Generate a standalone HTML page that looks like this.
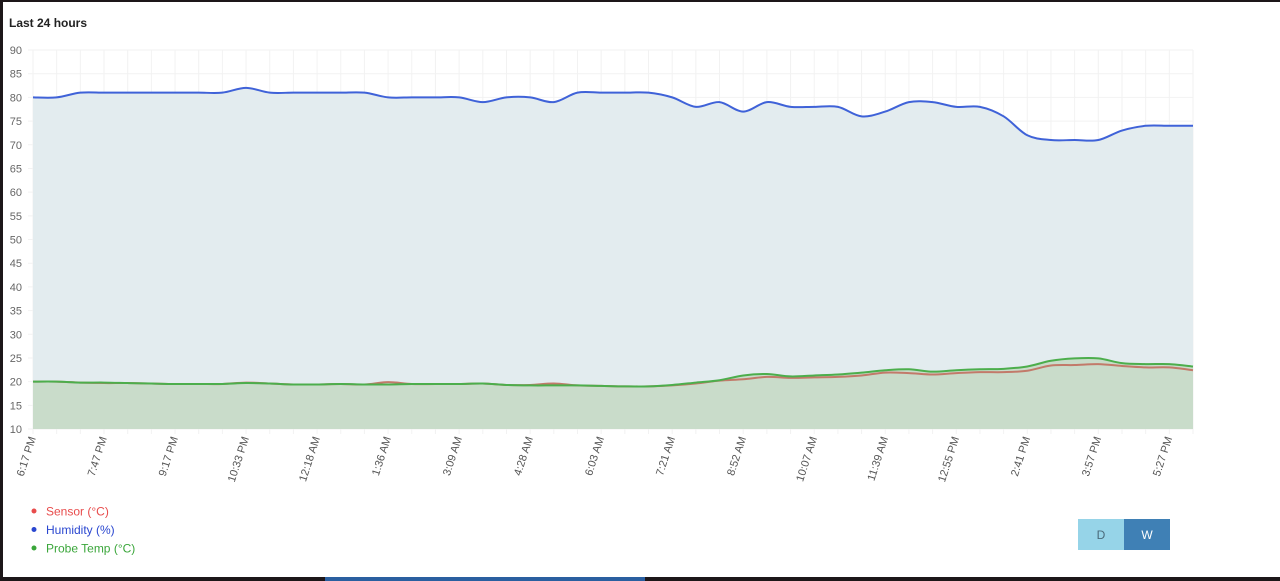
<!DOCTYPE html>
<html><head><meta charset="utf-8"><style>
body{margin:0;width:1280px;height:581px;background:#1d1719;overflow:hidden;font-family:"Liberation Sans",sans-serif}
#card{position:absolute;left:3px;top:2px;width:1277px;height:575px;background:#fff}
#strip{position:absolute;left:325px;top:577px;width:320px;height:4px;background:#2a5fa0}
.btn{position:absolute;top:519px;width:46px;height:31px;font-size:12px;display:flex;align-items:center;justify-content:center}
</style></head><body>
<div id="card"></div>
<div id="strip"></div>
<svg id="chart" width="1280" height="581" style="position:absolute;left:0;top:0">
<text x="9" y="27" font-size="12" font-weight="bold" fill="#222">Last 24 hours</text>
</svg>
<div class="btn" style="left:1078px;background:#96d4e8;color:#4a6a7a">D</div>
<div class="btn" style="left:1124px;background:#3f80b5;color:#fff">W</div>
<script>
const xLabels=["6:17 PM","7:47 PM","9:17 PM","10:33 PM","12:18 AM","1:36 AM","3:09 AM","4:28 AM","6:03 AM","7:21 AM","8:52 AM","10:07 AM","11:39 AM","12:55 PM","2:41 PM","3:57 PM","5:27 PM"];
const yTicks=[10,15,20,25,30,35,40,45,50,55,60,65,70,75,80,85,90];
const humidity=[80,80,81,81,81,81,81,81,81,82,81,81,81,81,81,80,80,80,80,79,80,80,79,81,81,81,81,80,78,79,77,79,78,78,78,76,77,79,79,78,78,76,72,71,71,71,73,74,74,74];
const probe=[20,20,19.8,19.8,19.7,19.6,19.5,19.5,19.5,19.7,19.6,19.4,19.4,19.5,19.4,19.4,19.5,19.5,19.5,19.6,19.3,19.2,19.2,19.2,19.1,19.0,19.0,19.3,19.8,20.3,21.3,21.6,21.1,21.3,21.5,21.9,22.4,22.6,22.1,22.4,22.6,22.7,23.2,24.4,24.9,24.9,23.9,23.7,23.7,23.2];
const sensor=[20,20,19.8,19.7,19.7,19.6,19.5,19.5,19.5,19.8,19.6,19.4,19.4,19.5,19.4,19.9,19.5,19.5,19.5,19.6,19.3,19.3,19.6,19.2,19.1,19.0,19.0,19.2,19.6,20.2,20.5,21.0,20.8,20.9,21.0,21.3,21.9,21.8,21.5,21.8,22.0,22.0,22.3,23.4,23.5,23.7,23.3,23.0,23.0,22.4];
const X0=33,X1=1193,Y0=429,Y1=50,ymin=10,ymax=90;
const n=humidity.length;
const xs=i=>X0+(X1-X0)*i/(n-1);
const ys=v=>Y0-(v-ymin)/(ymax-ymin)*(Y0-Y1);
const svg=document.getElementById('chart');
const NS='http://www.w3.org/2000/svg';
function mk(tag,attrs,parent){const e=document.createElementNS(NS,tag);for(const k in attrs)e.setAttribute(k,attrs[k]);(parent||svg).appendChild(e);return e;}
function curve(arr){let d='M'+xs(0)+','+ys(arr[0]);for(let i=0;i<arr.length-1;i++){const p0=i?i-1:0,p3=Math.min(i+2,arr.length-1);const c1x=xs(i)+(xs(i+1)-xs(p0))/6,c1y=ys(arr[i])+(ys(arr[i+1])-ys(arr[p0]))/6;const c2x=xs(i+1)-(xs(p3)-xs(i))/6,c2y=ys(arr[i+1])-(ys(arr[p3])-ys(arr[i]))/6;d+=` C${c1x},${c1y} ${c2x},${c2y} ${xs(i+1)},${ys(arr[i+1])}`;}return d;}
for(const t of yTicks){const g=mk('line',{x1:X0-5,x2:X1,y1:ys(t),y2:ys(t),stroke:'#f2f2f2'});

const l=mk('text',{x:22,y:ys(t)+4,'font-size':11,fill:'#666','text-anchor':'end'});l.textContent=t;
}
for(let i=0;i<n;i++){const g=mk('line',{x1:xs(i),x2:xs(i),y1:Y1,y2:Y0+5,stroke:'#f2f2f2'});
}
xLabels.forEach((s,k)=>{const x=xs(k*3)+3,y=Y0+9;const t=mk('text',{x:x,y:y,'font-size':11,fill:'#555','text-anchor':'end',transform:`rotate(-72 ${x} ${y})`});t.textContent=s;
});
function area(arr,fill,name){const a=mk('path',{d:curve(arr)+` L${X1},${Y0} L${X0},${Y0} Z`,fill:fill});
}
function line(arr,stroke,name){const l=mk('path',{d:curve(arr),fill:'none',stroke:stroke,'stroke-width':2});
}
area(humidity,'#e3ecef','humidity');
area(probe,'#c9dcca','probe-temp');
line(humidity,'#3f62d8','humidity');
line(sensor,'#c27a6a','sensor');
line(probe,'#4cae4c','probe-temp');
[['Sensor (°C)','#e84c4c'],['Humidity (%)','#2a47d0'],['Probe Temp (°C)','#3aa63a']].forEach((e,k)=>{const y=511+k*18.5;
const c=mk('circle',{cx:34,cy:y,r:2.5,fill:e[1]});
const t=mk('text',{x:46,y:y+4.5,'font-size':12,fill:e[1]});t.textContent=e[0];
});
</script>
</body></html>
